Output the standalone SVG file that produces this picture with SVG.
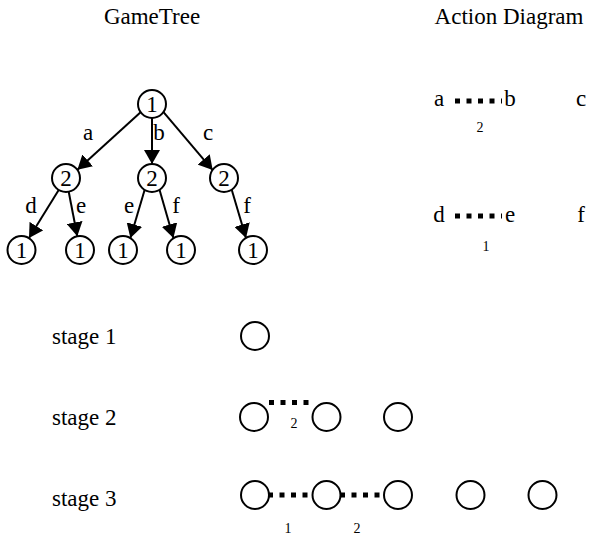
<svg xmlns="http://www.w3.org/2000/svg" width="589" height="537" viewBox="0 0 589 537">
  <style>
    text { font-family: 'Liberation Serif', serif; fill: #000; }
    .t { font-size: 23px; }
    .m { text-anchor: middle; }
    .s { font-size: 14px; text-anchor: middle; }
    .node { fill: #fff; stroke: #000; stroke-width: 2; }
    .edge { stroke: #000; stroke-width: 2; fill: none; }
    .dots { stroke: #000; stroke-width: 5; stroke-dasharray: 5 6.5; fill: none; }
  </style>
  <defs>
    <marker id="arrow" markerUnits="userSpaceOnUse" markerWidth="16" markerHeight="16" refX="14" refY="8" orient="auto">
      <path d="M0,0 L14,8 L0,16 z" fill="#000"/>
    </marker>
  </defs>

  <rect width="589" height="537" fill="#fff"/>

  <!-- headings -->
  <text class="t m" x="152" y="24">GameTree</text>
  <text class="t m" x="509" y="24">Action Diagram</text>

  <!-- game tree connectors -->
  <g id="tree-edges">
    <line class="edge" x1="140.6" y1="112.2" x2="77.4" y2="169.8" marker-end="url(#arrow)"/>
    <line class="edge" x1="152" y1="118" x2="152" y2="164" marker-end="url(#arrow)"/>
    <line class="edge" x1="163.3" y1="111.9" x2="212.7" y2="170.1" marker-end="url(#arrow)"/>
    <line class="edge" x1="58.7" y1="190" x2="29" y2="238" marker-end="url(#arrow)"/>
    <line class="edge" x1="68.7" y1="191.7" x2="77.3" y2="236.2" marker-end="url(#arrow)"/>
    <line class="edge" x1="144.6" y1="190" x2="130.4" y2="238" marker-end="url(#arrow)"/>
    <line class="edge" x1="159.6" y1="190" x2="173.4" y2="238" marker-end="url(#arrow)"/>
    <line class="edge" x1="231.8" y1="190" x2="246" y2="238" marker-end="url(#arrow)"/>
  </g>

  <!-- edge labels -->
  <g id="tree-labels">
    <text class="t m" x="88" y="140">a</text>
    <text class="t m" x="159" y="140">b</text>
    <text class="t m" x="208" y="140">c</text>
    <text class="t m" x="31" y="213">d</text>
    <text class="t m" x="81" y="213">e</text>
    <text class="t m" x="129" y="213">e</text>
    <text class="t m" x="176" y="213">f</text>
    <text class="t m" x="247" y="213">f</text>
  </g>

  <!-- game tree nodes -->
  <g id="root"><circle class="node" cx="152" cy="104" r="14"/><text class="t m" x="152" y="112">1</text></g>
  <g id="n-a"><circle class="node" cx="66" cy="178" r="14"/><text class="t m" x="66" y="186">2</text></g>
  <g id="n-b"><circle class="node" cx="152" cy="178" r="14"/><text class="t m" x="152" y="186">2</text></g>
  <g id="n-c"><circle class="node" cx="224" cy="178" r="14"/><text class="t m" x="224" y="186">2</text></g>
  <g id="n-ad"><circle class="node" cx="21.5" cy="250" r="14"/><text class="t m" x="21.5" y="258">1</text></g>
  <g id="n-ae"><circle class="node" cx="80" cy="250" r="14"/><text class="t m" x="80" y="258">1</text></g>
  <g id="n-be"><circle class="node" cx="123" cy="250" r="14"/><text class="t m" x="123" y="258">1</text></g>
  <g id="n-bf"><circle class="node" cx="181" cy="250" r="14"/><text class="t m" x="181" y="258">1</text></g>
  <g id="n-cf"><circle class="node" cx="253" cy="250" r="14"/><text class="t m" x="253" y="258">1</text></g>

  <!-- action diagram -->
  <g id="action-diagram">
    <text class="t m" x="439" y="106">a</text>
    <line class="dots" x1="455" y1="101" x2="502" y2="101"/>
    <text class="t m" x="510" y="106">b</text>
    <text class="s" x="480" y="132">2</text>
    <text class="t m" x="581" y="106">c</text>

    <text class="t m" x="439" y="222">d</text>
    <line class="dots" x1="455" y1="216" x2="502" y2="216"/>
    <text class="t m" x="510" y="222">e</text>
    <text class="s" x="486" y="251">1</text>
    <text class="t m" x="581" y="222">f</text>
  </g>

  <!-- stages -->
  <text class="t" x="52" y="344">stage 1</text>
  <text class="t" x="52" y="425">stage 2</text>
  <text class="t" x="52" y="506">stage 3</text>

  <g id="stage-links">
    <line class="dots" x1="269" y1="402.5" x2="314" y2="402.5"/>
    <line class="dots" x1="268" y1="495" x2="316" y2="495"/>
    <line class="dots" x1="340" y1="495" x2="388" y2="495"/>
  </g>
  <text class="s" x="294" y="428">2</text>
  <text class="s" x="288" y="533">1</text>
  <text class="s" x="357" y="533">2</text>

  <g id="s1-0"><circle class="node" cx="255" cy="336" r="14"/></g>
  <g id="s2-0"><circle class="node" cx="254" cy="417" r="14"/></g>
  <g id="s2-1"><circle class="node" cx="326.5" cy="417" r="14"/></g>
  <g id="s2-2"><circle class="node" cx="398" cy="417" r="14"/></g>
  <g id="s3-0"><circle class="node" cx="255" cy="495" r="14"/></g>
  <g id="s3-1"><circle class="node" cx="326.5" cy="495" r="14"/></g>
  <g id="s3-2"><circle class="node" cx="398" cy="495" r="14"/></g>
  <g id="s3-3"><circle class="node" cx="470.5" cy="495" r="14"/></g>
  <g id="s3-4"><circle class="node" cx="542.5" cy="495" r="14"/></g>
</svg>
